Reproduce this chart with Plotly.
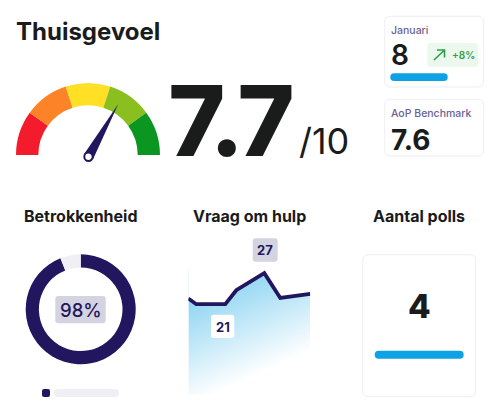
import math
import plotly.graph_objects as go

# Gauge: five equal bands on the top half, the other half of the pie is hidden
gauge_colors = ["#f41c2c", "#fc8426", "#ffe025", "#8abf1f", "#0a9620"]
gauge_bands = [1, 1, 1, 1, 1]
needle_angle = 119.5  # degrees, measured from the left end of the gauge

# Donut
donut_values = [94, 6]
donut_colors = ["#22175e", "#f0eff5"]

# Vraag om hulp line
hulp_x = [0, 8, 37, 48, 76, 92, 122]
hulp_y = [22.1, 21, 21, 23.7, 27, 22.2, 23]

NAVY = "#22175e"
INK = "#1a1b1b"
BLUE = "#0ca2e4"
PURPLE = "#6a5f96"
BORDER = "#eeeef4"
FONT = "Inter"
W, H = 500, 417


def rounded(x0, y0, x1, y1, r):
    return (
        f"M{x0 + r},{y0} L{x1 - r},{y0} Q{x1},{y0} {x1},{y0 + r} "
        f"L{x1},{y1 - r} Q{x1},{y1} {x1 - r},{y1} "
        f"L{x0 + r},{y1} Q{x0},{y1} {x0},{y1 - r} "
        f"L{x0},{y0 + r} Q{x0},{y0} {x0 + r},{y0} Z"
    )


def box(x0, y0, x1, y1, r, fill, line=None):
    return dict(
        type="path", xref="x", yref="y", layer="above", path=rounded(x0, y0, x1, y1, r),
        fillcolor=fill, line=dict(color=line or "rgba(0,0,0,0)", width=1 if line else 0),
    )


def label(x, y, text, size, color=INK, weight=400, anchor="left"):
    return dict(
        xref="x", yref="y", x=x, y=y, text=text, showarrow=False, xanchor=anchor, yanchor="middle",
        font=dict(family=FONT, size=size, color=color, weight=weight),
    )


def pie_domain(cx, cy, radius):
    return dict(
        x=[(cx - radius) / W, (cx + radius) / W],
        y=[1 - (cy + radius) / H, 1 - (cy - radius) / H],
    )


fig = go.Figure()

# Empty trace keeps the pixel axes alive for the shapes and labels
fig.add_trace(go.Scatter(x=[0], y=[0], mode="markers", marker=dict(opacity=0), hoverinfo="skip", xaxis="x", yaxis="y"))

fig.add_trace(go.Pie(
    values=gauge_bands + [sum(gauge_bands)],
    marker=dict(colors=gauge_colors + ["rgba(0,0,0,0)"], line=dict(width=0)),
    domain=pie_domain(88, 155, 72), hole=0.69, sort=False, direction="clockwise", rotation=270,
    textinfo="none", hoverinfo="skip", showlegend=False,
))

fig.add_trace(go.Pie(
    values=donut_values,
    marker=dict(colors=donut_colors, line=dict(width=0)),
    domain=pie_domain(80.7, 309.3, 55), hole=0.76, sort=False, direction="clockwise", rotation=0,
    textinfo="none", hoverinfo="skip", showlegend=False,
))

# White cover above the line hides the gradient image behind it
fig.add_trace(go.Scatter(
    x=hulp_x, y=[28] * len(hulp_x), mode="lines", line=dict(width=0, color="white"),
    hoverinfo="skip", showlegend=False, xaxis="x2", yaxis="y2",
))
fig.add_trace(go.Scatter(
    x=hulp_x, y=hulp_y, mode="lines", fill="tonexty", fillcolor="white",
    line=dict(color=NAVY, width=3.8), cliponaxis=False,
    hoverinfo="skip", showlegend=False, xaxis="x2", yaxis="y2",
))

gradient = (
    "data:image/svg+xml;utf8,<svg xmlns='http://www.w3.org/2000/svg' viewBox='0 0 100 100' "
    "preserveAspectRatio='none'><defs><linearGradient id='g' x1='0' y1='0.254' x2='0.30' y2='0.95'>"
    "<stop offset='0' stop-color='%238fd5f2'/><stop offset='1' stop-color='white'/></linearGradient></defs>"
    "<rect width='100' height='100' fill='url(%23g)'/></svg>"
)

# Needle points along needle_angle from the hub
hub_x, hub_y = 88.5, 156.7
a = math.radians(needle_angle)
tip = (hub_x - 60.5 * math.cos(a), hub_y - 60.5 * math.sin(a))
side = (5.2 * math.sin(a), -5.2 * math.cos(a))
needle = (
    f"M{tip[0]},{tip[1]} L{hub_x + side[0]},{hub_y + side[1]} "
    f"L{hub_x - side[0]},{hub_y - side[1]} Z"
)

shapes = [
    # cards
    box(384.7, 16.3, 483.7, 87, 6, "white", BORDER),
    box(384.7, 99.3, 483.7, 156, 6, "white", BORDER),
    box(362.7, 254.7, 475.7, 396.7, 6, "white", BORDER),
    # progress bars
    box(390.3, 73.3, 447.7, 81, 3.8, BLUE),
    box(374.7, 350.7, 463.7, 358.7, 4, BLUE),
    box(42, 389, 50, 397, 2, NAVY),
    box(54, 389, 119, 397, 4, "#f0eff5"),
    # badges
    box(427.3, 43, 478, 67, 3, "#ecf8ee"),
    box(55.3, 296, 105.7, 323.3, 3, "#d4d3e0"),
    box(252.7, 238.3, 277.7, 261.7, 3, "#d4d3e0"),
    box(211, 314.7, 234.3, 338, 3, "white"),
    # trend arrow
    dict(type="path", xref="x", yref="y", layer="above", path="M434,60 L444.5,50 M437,50 L444.5,50 L444.5,57.5",
         line=dict(color="#2e9e4a", width=1.6)),
    # needle and hub
    dict(type="path", xref="x", yref="y", layer="above", path=needle, fillcolor=NAVY, line=dict(width=0)),
    dict(type="circle", xref="x", yref="y", layer="above", x0=hub_x - 4.2, x1=hub_x + 4.2, y0=hub_y - 4.2, y1=hub_y + 4.2,
         fillcolor="white", line=dict(color=NAVY, width=2)),
]

annotations = [
    label(13.5, 31, "Thuisgevoel", 24, weight=700),
    label(161, 120.3, "7.7", 97, weight=800),
    label(297, 141, "/10", 36),
    label(389, 30, "Januari", 10.5, color=PURPLE, weight=500),
    label(388.5, 55, "8", 28, weight=600),
    label(463, 55, "+8%", 10, color="#2e9e4a", weight=600, anchor="center"),
    label(389, 113, "AoP Benchmark", 10.5, color=PURPLE, weight=500),
    label(389, 140, "7.6", 28, weight=700),
    label(81, 216, "Betrokkenheid", 16, weight=700, anchor="center"),
    label(249, 216, "Vraag om hulp", 16, weight=700, anchor="center"),
    label(419, 216, "Aantal polls", 16, weight=700, anchor="center"),
    label(80.5, 310, "98%", 18.5, color=NAVY, weight=500, anchor="center"),
    label(265.2, 250, "27", 13, color=NAVY, weight=700, anchor="center"),
    label(222.7, 326.5, "21", 13, color=NAVY, weight=700, anchor="center"),
    label(419, 306, "4", 33, weight=800, anchor="center"),
]

hidden = dict(visible=False, fixedrange=True)
fig.update_layout(
    width=W, height=H, margin=dict(l=0, r=0, t=0, b=0),
    paper_bgcolor="white", plot_bgcolor="rgba(0,0,0,0)", showlegend=False,
    xaxis=dict(range=[0, W], domain=[0, 1], **hidden),
    yaxis=dict(range=[H, 0], domain=[0, 1], **hidden),
    xaxis2=dict(range=[0, 122], domain=[188.3 / W, 310.3 / W], anchor="y2", **hidden),
    yaxis2=dict(range=[3.3, 28], domain=[(H - 395.7) / H, (H - 268) / H], anchor="x2", **hidden),
    images=[dict(source=gradient, xref="x2", yref="y2", x=0, y=28, sizex=122, sizey=24.7,
                 sizing="stretch", layer="below", xanchor="left", yanchor="top")],
    shapes=shapes,
    annotations=annotations,
)

# The big score is set tighter than the font's default spacing
tighten = """
document.body.style.margin = '0';
document.querySelectorAll('.annotation-text').forEach(function (t) {
  if (t.textContent === '7.7') { t.style.letterSpacing = '-3.5px'; }
});
"""
fig.write_html("out.html", config=dict(displayModeBar=False), post_script=tighten)
